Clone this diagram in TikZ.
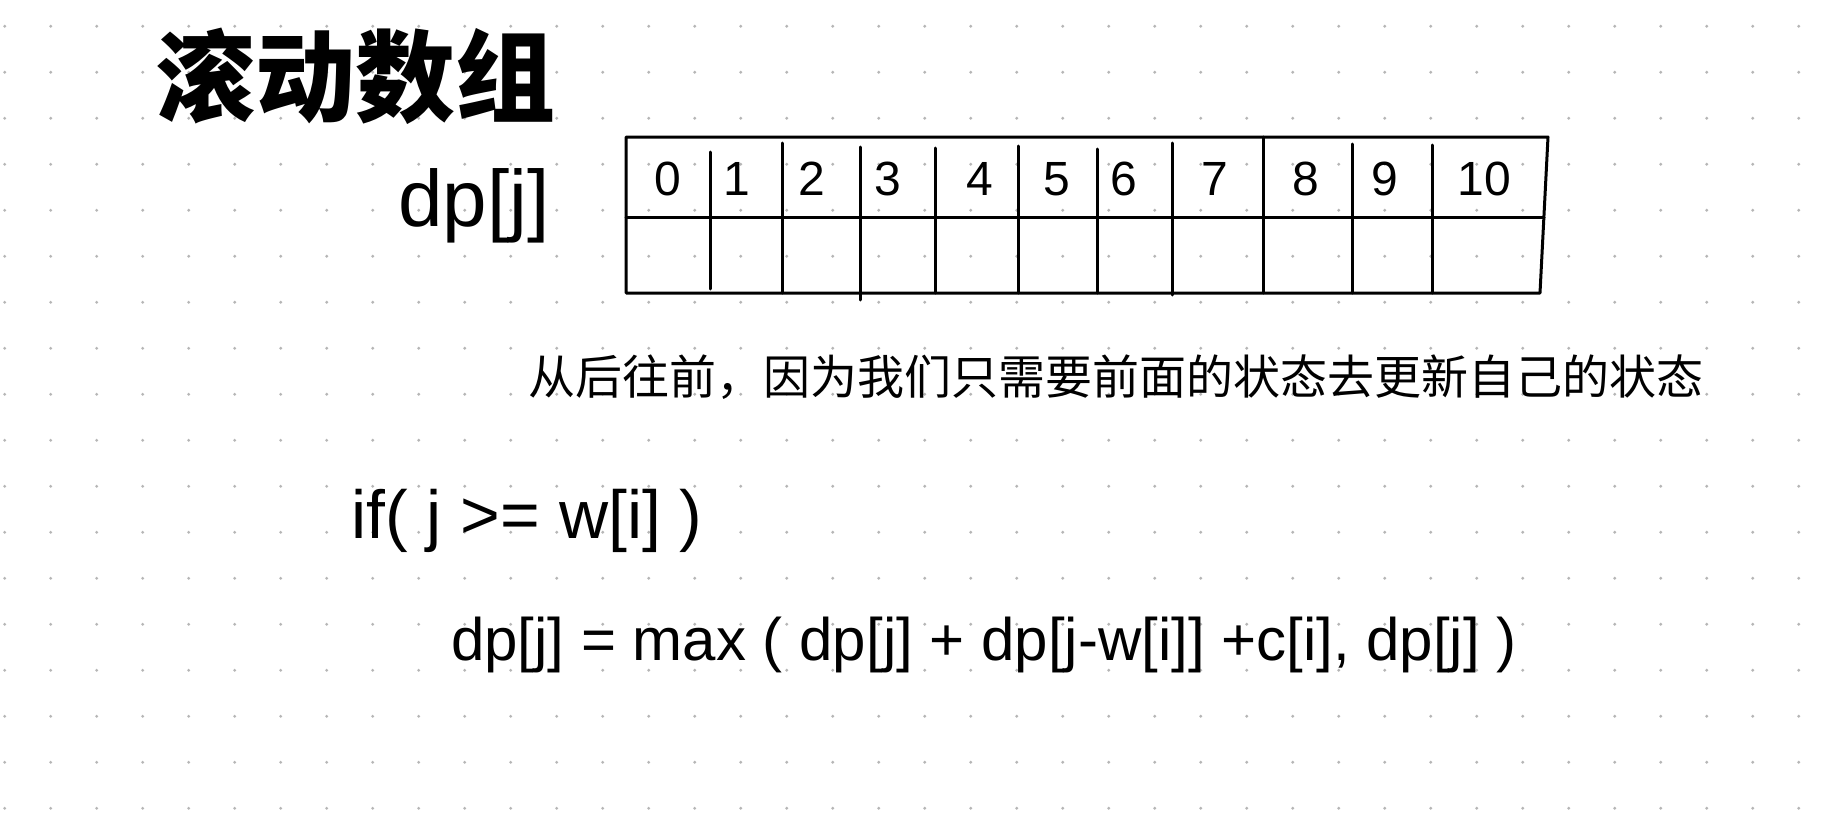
\documentclass[tikz,border=0pt]{standalone}
\usepackage{fontspec}
\setmainfont{Liberation Sans}
\newfontfamily\cjk{Noto Sans CJK SC}
\definecolor{dotgray}{RGB}{182,182,182}
\begin{document}
\begin{tikzpicture}[x=1pt,y=-1pt,
  tbl/.style={line width=3pt, line cap=round, line join=round},
  digit/.style={font=\fontsize{48}{48}\selectfont, inner sep=0pt},
  hand/.style={inner sep=0pt, anchor=base west}]
\fill[white] (0,0) rectangle (1824,816);
\useasboundingbox (0,0) rectangle (1824,816);
\foreach \i in {0,...,39}{\foreach \j in {0,...,17}{\fill[dotgray] (4.7+46*\i, 26.3+46*\j) circle (1.6pt);}}
% table
\draw[tbl] (626,137) -- (1548,137) -- (1540,293) -- (626,293) -- cycle;
\draw[tbl] (626,217) -- (1544,217);
\foreach \x/\t/\b in {710.8/152/289, 782/143/293, 860/147/300, 935/148/293, 1018/146/293, 1097/149/293, 1172/143/295, 1263/137/293, 1352/144/293, 1432/145/293}
  {\draw[tbl] (\x,\t) -- (\x,\b);}
\foreach \d/\x in {0/668, 1/737, 2/812, 3/888, 4/980, 5/1057, 6/1124, 7/1215, 8/1306, 9/1385, 10/1484}
  {\node[digit] (c\d) at (\x,179) {\d};}
% texts
\node[font=\cjk\bfseries\fontsize{100}{100}\selectfont, inner sep=0pt] (title) at (355,76) {滚动数组};
\node[hand, font=\fontsize{80}{80}\selectfont] (dplabel) at (398,226) {dp[j]};
\node[font=\cjk\fontsize{47}{47}\selectfont, inner sep=0pt] (note) at (1116,377) {从后往前，因为我们只需要前面的状态去更新自己的状态};
\node[hand, font=\fontsize{68}{68}\selectfont] (cond) at (351,538) {if( j >= w[i] )};
\node[hand, font=\fontsize{60}{60}\selectfont] (update) at (451,660) {dp[j] = max ( dp[j] + dp[j-w[i]] +c[i], dp[j] )};
\end{tikzpicture}
\end{document}
